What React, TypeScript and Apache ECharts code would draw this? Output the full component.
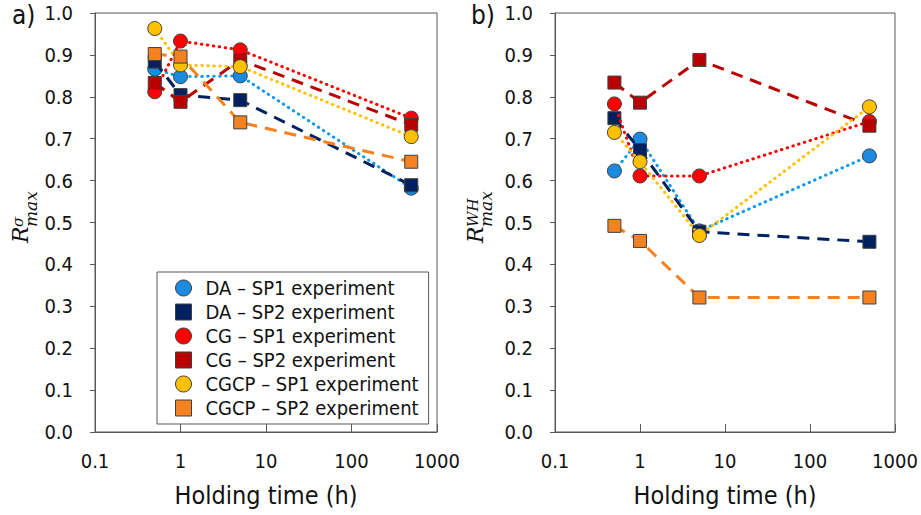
import React, { useEffect, useRef } from "react";
import * as echarts from "echarts";

// Holding times (h) shared by every series
const holdingTimes = [0.5, 1, 5, 500];

// Panel a) — R^σ_max
const sigmaDaSp1 = [0.866, 0.848, 0.85, 0.582];
const sigmaDaSp2 = [0.884, 0.804, 0.792, 0.589];
const sigmaCgSp1 = [0.812, 0.933, 0.912, 0.749];
const sigmaCgSp2 = [0.833, 0.788, 0.888, 0.733];
const sigmaCgcpSp1 = [0.963, 0.876, 0.872, 0.705];
const sigmaCgcpSp2 = [0.902, 0.896, 0.739, 0.645];

// Panel b) — R^WH_max
const whDaSp1 = [0.623, 0.699, 0.48, 0.659];
const whDaSp2 = [0.749, 0.673, 0.478, 0.454];
const whCgSp1 = [0.783, 0.611, 0.611, 0.741];
const whCgSp2 = [0.834, 0.786, 0.888, 0.731];
const whCgcpSp1 = [0.715, 0.645, 0.469, 0.776];
const whCgcpSp2 = [0.492, 0.456, 0.321, 0.321];

const seriesNames = [
  "DA – SP1 experiment",
  "DA – SP2 experiment",
  "CG – SP1 experiment",
  "CG – SP2 experiment",
  "CGCP – SP1 experiment",
  "CGCP – SP2 experiment",
];

const xTickLabels = ["0.1", "1", "10", "100", "1000"];

const COLORS = ["#1a8be0", "#002060", "#ff0000", "#b80000", "#ffc000", "#f58220"];
const LINE_COLORS = ["#0d9be8", "#002060", "#ff0000", "#b80000", "#ffc000", "#f58220"];
const SYMBOLS = ["circle", "rect", "circle", "rect", "circle", "rect"];

const SANS = "'DejaVu Sans Condensed', 'DejaVu Sans', sans-serif";
const SERIF = "'DejaVu Serif', serif";
const AXIS_GREY = "#595959";
const TEXT = "#111";

function buildSeries(gridIndex: number, values: number[][]) {
  return values.map((vals, i) => {
    const dotted = i % 2 === 0;
    return {
      type: "line",
      name: seriesNames[i],
      xAxisIndex: gridIndex,
      yAxisIndex: gridIndex,
      data: holdingTimes.map((t, k) => [t, vals[k]]),
      symbol: SYMBOLS[i],
      symbolSize: SYMBOLS[i] === "circle" ? 14 : 13,
      itemStyle: { color: COLORS[i], borderColor: "#404040", borderWidth: 1 },
      lineStyle: dotted
        ? { color: LINE_COLORS[i], width: 3, type: [0.5, 5.5], cap: "round" }
        : { color: LINE_COLORS[i], width: 3, type: [12, 8] },
      emphasis: { disabled: true },
      z: 2 + i,
    };
  });
}

function xAxis(gridIndex: number) {
  return {
    type: "log",
    logBase: 10,
    gridIndex,
    min: 0.1,
    max: 1000,
    name: "Holding time (h)",
    nameLocation: "middle",
    nameGap: 51,
    nameTextStyle: { fontFamily: SANS, fontSize: 25, color: TEXT },
    axisLine: { lineStyle: { color: AXIS_GREY, width: 1 } },
    axisTick: { inside: true, length: 8, lineStyle: { color: AXIS_GREY } },
    axisLabel: {
      margin: 19,
      fontFamily: SANS,
      fontSize: 20,
      color: TEXT,
      showMinLabel: true,
      showMaxLabel: true,
      formatter: (v: number) => {
        const idx = Math.round(Math.log10(v)) + 1;
        return xTickLabels[idx] ?? String(v);
      },
    },
    splitLine: { show: false },
    minorTick: { show: false },
  };
}

function yAxis(gridIndex: number) {
  return {
    type: "value",
    gridIndex,
    min: 0,
    max: 1,
    interval: 0.1,
    axisLine: { show: true, lineStyle: { color: AXIS_GREY, width: 1 } },
    axisTick: { show: true, inside: false, length: 5, lineStyle: { color: AXIS_GREY } },
    axisLabel: {
      margin: 22,
      fontFamily: SANS,
      fontSize: 20,
      color: TEXT,
      formatter: (v: number) => v.toFixed(1),
    },
    splitLine: { show: false },
  };
}

// Rotated math-style axis title: R with superscript and subscript
function mathTitle(x: number, y: number, sup: string) {
  return {
    type: "group",
    x,
    y,
    rotation: Math.PI / 2,
    children: [
      {
        type: "text",
        x: 0,
        y: -4,
        style: {
          text: "R",
          font: `italic 22px ${SERIF}`,
          fill: TEXT,
          textAlign: "left",
          textVerticalAlign: "middle",
        },
      },
      {
        type: "text",
        x: 16,
        y: -6,
        style: {
          text: sup,
          font: `italic 15px ${SERIF}`,
          fill: TEXT,
          textAlign: "left",
          textVerticalAlign: "middle",
        },
      },
      {
        type: "text",
        x: 16,
        y: 7,
        style: {
          text: "max",
          font: `italic 17px ${SERIF}`,
          fill: TEXT,
          textAlign: "left",
          textVerticalAlign: "middle",
        },
      },
    ],
  };
}

export default function App() {
  const ref = useRef<HTMLDivElement>(null);

  useEffect(() => {
    if (!ref.current) return;
    const chart = echarts.init(ref.current, undefined, { renderer: "svg" });

    const option = {
      animation: false,
      backgroundColor: "#fff",
      grid: [
        { left: 95, top: 13, width: 342, height: 419, show: true, borderColor: AXIS_GREY, borderWidth: 1 },
        { left: 555, top: 13, width: 340, height: 419, show: true, borderColor: AXIS_GREY, borderWidth: 1 },
      ],
      xAxis: [xAxis(0), xAxis(1)],
      yAxis: [yAxis(0), yAxis(1)],
      legend: {
        orient: "vertical",
        left: 157,
        top: 272,
        itemWidth: 16,
        itemHeight: 16,
        itemGap: 4,
        padding: [6, 10, 6, 18],
        backgroundColor: "#fff",
        borderColor: AXIS_GREY,
        borderWidth: 1,
        selectedMode: false,
        textStyle: {
          fontFamily: SANS,
          fontSize: 20,
          color: TEXT,
          lineHeight: 16,
          padding: [0, 0, 0, 9],
        },
        data: seriesNames.map((name, i) => ({
          name,
          icon: SYMBOLS[i],
          itemStyle: { color: COLORS[i], borderColor: "#404040", borderWidth: 1 },
        })),
      },
      graphic: [
        {
          type: "text",
          left: 12,
          top: 2,
          style: { text: "a)", font: `26px ${SANS}`, fill: TEXT },
        },
        {
          type: "text",
          left: 471,
          top: 2,
          style: { text: "b)", font: `26px ${SANS}`, fill: TEXT },
        },
        mathTitle(24, 243, "σ"),
        mathTitle(479, 243, "WH"),
      ],
      series: [
        ...buildSeries(0, [sigmaDaSp1, sigmaDaSp2, sigmaCgSp1, sigmaCgSp2, sigmaCgcpSp1, sigmaCgcpSp2]),
        ...buildSeries(1, [whDaSp1, whDaSp2, whCgSp1, whCgSp2, whCgcpSp1, whCgcpSp2]),
      ],
    };

    chart.setOption(option as any);
    return () => chart.dispose();
  }, []);

  return (
    <div
      ref={ref}
      style={{ position: "fixed", left: 0, top: 0, width: 921, height: 515 }}
    />
  );
}
